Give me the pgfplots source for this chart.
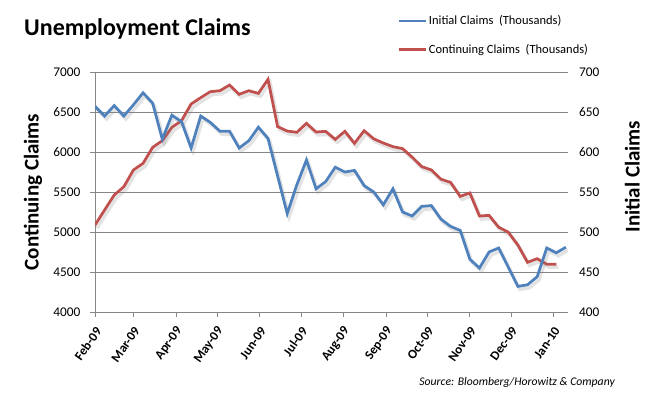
\documentclass[border=0pt]{standalone}
\usepackage{fontspec}
\setmainfont{Carlito}
\usepackage{pgfplots}
\usepackage{pgfplotstable}
\pgfplotsset{compat=1.18}
\definecolor{cblue}{HTML}{4F81BD}
\definecolor{cred}{HTML}{C0504D}
\definecolor{cgrid}{HTML}{868686}
\newcommand{\fs}[1]{\fontsize{#1}{#1}\selectfont}

% Initial claims (thousands), x = days since 1 Feb 2009
\pgfplotstableread{
x y
0 657
7 645
14 658
21 645
28 659
35 674
42 661
49 616
56 646
63 638
70 605
77 645
84 637
91 626
98 626
105 605
112 614
119 631
126 617
133 570
140 523
147 559
154 590
161 554
168 563
175 581
182 575
189 577
196 558
203 550
210 534
217 554
224 525
231 520
238 532
245 533
252 516
259 507
266 502
273 466
280 455
287 475
294 480
301 456
308 432
315 434
322 444
329 480
336 474
343 481
}\initial

% Continuing claims (thousands)
\pgfplotstableread{
x y
0 5087
7 5275
14 5462
21 5566
28 5775
35 5858
42 6058
49 6141
56 6308
63 6391
70 6600
77 6679
84 6754
91 6766
98 6837
105 6721
112 6766
119 6733
126 6908
133 6317
140 6262
147 6246
154 6358
161 6250
168 6258
175 6158
182 6258
189 6108
196 6266
203 6165
210 6112
217 6067
224 6042
231 5935
238 5817
245 5775
252 5660
259 5620
266 5445
273 5488
280 5200
287 5208
294 5060
301 4998
308 4837
315 4621
322 4666
329 4598
336 4598
}\continuing

\begin{document}
\begin{tikzpicture}
\useasboundingbox (0,0) rectangle (653bp,-395bp);
\begin{axis}[
  at={(95bp,-312bp)}, anchor=south west, scale only axis,
  width=473bp, height=240bp,
  xmin=0, xmax=344.5, ymin=4000, ymax=7000,
  axis x line*=bottom, axis y line*=left,
  axis line style={-, draw=cgrid, line width=0.8bp},
  xtick={0,28,59,89,120,150,181,212,242,273,303,334},
  xticklabels={Feb-09,Mar-09,Apr-09,May-09,Jun-09,Jul-09,Aug-09,Sep-09,Oct-09,Nov-09,Dec-09,Jan-10},
  xticklabel style={xshift=3.5bp, yshift=-12bp, font=\bfseries\fs{13bp}, rotate=55, anchor=east, inner sep=0pt},
  ytick={4000,4500,...,7000},
  yticklabel style={font=\fs{13.3bp}, inner sep=0pt, xshift=-10bp},
  /pgf/number format/assume math mode=true,
  /pgf/number format/1000 sep={},
  scaled ticks=false,
  tick align=outside, major tick length=4.5bp,
  tick style={draw=cgrid, line width=0.8bp},
  ymajorgrids, grid style={draw=cgrid, line width=0.8bp},
  ylabel={Continuing Claims},
  ylabel style={font=\bfseries\fs{21bp}, at={(axis description cs:-0.131,0.5)}, anchor=center},
]
\addplot[gray, opacity=0.22, line width=3.5bp, xshift=2bp, yshift=-3bp, forget plot] table[x=x,y=y]{\continuing};
\addplot[cred, line width=2.75bp] table[x=x,y=y]{\continuing};
\end{axis}
\begin{axis}[
  at={(95bp,-312bp)}, anchor=south west, scale only axis,
  width=473bp, height=240bp,
  xmin=0, xmax=344.5, ymin=400, ymax=700,
  axis x line=none, axis y line*=right,
  y axis line style={draw=none},
  ytick={400,450,...,700},
  ytick style={draw=none}, major tick length=0pt,
  yticklabel style={font=\fs{13.3bp}, inner sep=0pt, xshift=11bp},
  /pgf/number format/assume math mode=true,
  scaled ticks=false,
  ylabel={Initial Claims},
  ylabel style={font=\bfseries\fs{21bp}, at={(axis description cs:1.136,0.564)}, anchor=center},
  legend style={at={(axis description cs:0.6395,1.242)}, anchor=north west, draw=none, fill=none,
    font=\fs{12.5bp}, row sep=15bp, inner sep=0pt, nodes={inner sep=1.5bp}, cells={anchor=west}},
  legend image code/.code={\draw[#1, line width=2.75bp] (0bp,0bp) -- (27bp,0bp);},
]
\addplot[gray, opacity=0.22, line width=3.5bp, xshift=2bp, yshift=-3bp, forget plot] table[x=x,y=y]{\initial};
\addplot[cblue, line width=2.75bp] table[x=x,y=y]{\initial};
\addlegendentry{Initial Claims\ \ (Thousands)}
\addlegendimage{cred, line width=2.75bp}
\addlegendentry{Continuing Claims\ \ (Thousands)}
\end{axis}
\node[anchor=base west, inner sep=0pt, font=\bfseries\fs{24bp}] at (24bp,-35.5bp) {Unemployment Claims};
\node[anchor=east, inner sep=0pt, font=\itshape\fs{11.7bp}] at (615bp,-382bp) {Source: Bloomberg/Horowitz \& Company};
\end{tikzpicture}
\end{document}
